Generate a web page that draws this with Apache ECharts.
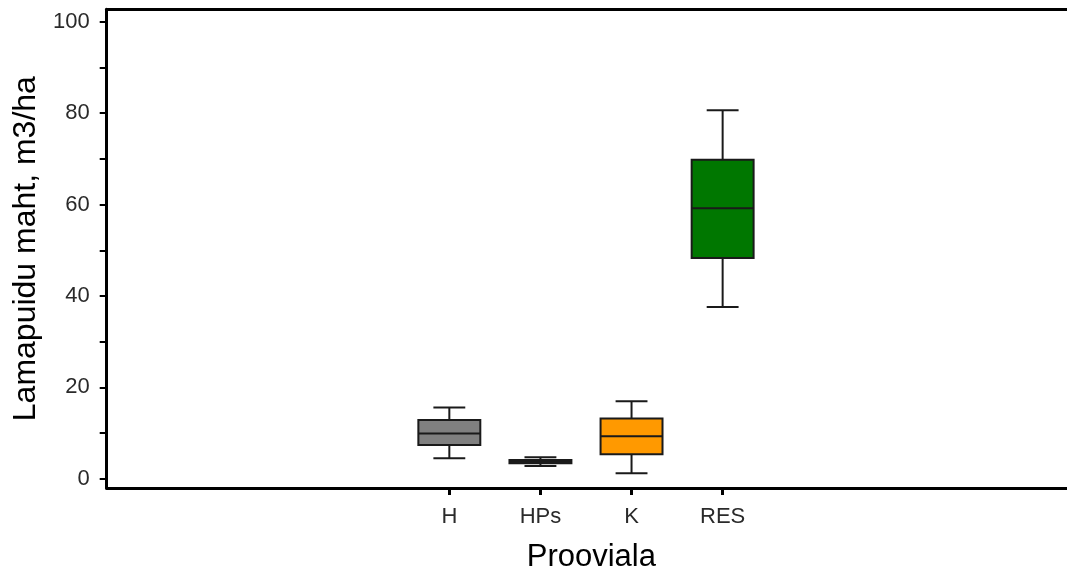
<!DOCTYPE html>
<html>
<head>
<meta charset="utf-8">
<script src="https://cdn.jsdelivr.net/npm/echarts@6/dist/echarts.min.js"></script>
<style>
  html, body { margin: 0; padding: 0; background: #fff; }
  #chart { width: 1067px; height: 578px; }
</style>
</head>
<body>
<div id="chart"></div>
<script>
// Lying deadwood volume by sample plot type (box plots)
const categories = ['H', 'HPs', 'K', 'RES'];
const whiskerLow = [4.5, 2.8, 1.2, 37.6];
const quartile1 = [7.4, 3.4, 5.4, 48.3];
const medians = [9.9, 3.8, 9.3, 59.2];
const quartile3 = [12.9, 4.1, 13.2, 69.8];
const whiskerHigh = [15.6, 4.7, 17.0, 80.6];
const boxColors = ['#808080', '#2a2a2a', '#FF9900', '#007700'];

const yTickValues = [0, 10, 20, 30, 40, 50, 60, 70, 80, 90, 100];
const yLabelValues = [0, 20, 40, 60, 80, 100];
const xPositions = categories.map((c, i) => i);

const boxData = categories.map((c, i) => [
  i, whiskerLow[i], quartile1[i], medians[i], quartile3[i], whiskerHigh[i]
]);

const BOX_WIDTH = 0.68;   // in category units
const CAP_WIDTH = 0.35;
const STROKE = '#1a1a1a';
const X_MIN = -3.761;
const X_MAX = 6.78;

function renderBox(params, api) {
  const x = api.value(0);
  const pLow = api.coord([x, api.value(1)]);
  const pQ1 = api.coord([x, api.value(2)]);
  const pMed = api.coord([x, api.value(3)]);
  const pQ3 = api.coord([x, api.value(4)]);
  const pHigh = api.coord([x, api.value(5)]);
  const half = api.size([BOX_WIDTH, 0])[0] / 2;
  const capHalf = api.size([CAP_WIDTH, 0])[0] / 2;
  const cx = pMed[0];
  const lineStyle = { stroke: STROKE, lineWidth: 2 };
  return {
    type: 'group',
    children: [
      { type: 'line', shape: { x1: cx, y1: pHigh[1], x2: cx, y2: pQ3[1] }, style: lineStyle },
      { type: 'line', shape: { x1: cx, y1: pQ1[1], x2: cx, y2: pLow[1] }, style: lineStyle },
      { type: 'line', shape: { x1: cx - capHalf, y1: pHigh[1], x2: cx + capHalf, y2: pHigh[1] }, style: lineStyle },
      { type: 'line', shape: { x1: cx - capHalf, y1: pLow[1], x2: cx + capHalf, y2: pLow[1] }, style: lineStyle },
      {
        type: 'rect',
        shape: { x: cx - half, y: pQ3[1], width: half * 2, height: pQ1[1] - pQ3[1] },
        style: { fill: boxColors[params.dataIndex], stroke: STROKE, lineWidth: 2 }
      },
      { type: 'line', shape: { x1: cx - half, y1: pMed[1], x2: cx + half, y2: pMed[1] }, style: lineStyle }
    ]
  };
}

const chart = echarts.init(document.getElementById('chart'), null, { renderer: 'canvas' });

chart.setOption({
  backgroundColor: '#ffffff',
  animation: false,
  textStyle: { fontFamily: 'Liberation Sans, Arial, sans-serif' },
  grid: {
    left: 106.7,
    top: 9.3,
    right: 0,
    bottom: 87.3,
    show: false,
    containLabel: false
  },
  xAxis: [{
    type: 'value',
    min: X_MIN,
    max: X_MAX,
    name: 'Prooviala',
    nameLocation: 'middle',
    nameGap: 54,
    nameTextStyle: { fontSize: 31, color: '#000', fontFamily: 'Liberation Sans', padding: [0, 0, 0, 9] },
    axisLine: { show: true, onZero: false, lineStyle: { color: '#000', width: 3 } },
    axisTick: { show: true, customValues: xPositions, length: 7, inside: false, lineStyle: { color: '#000', width: 3 } },
    axisLabel: {
      customValues: xPositions,
      formatter: v => categories[Math.round(v)],
      fontSize: 22,
      color: '#2a2a2a',
      margin: 18,
      fontFamily: 'Liberation Sans'
    },
    splitLine: { show: false }
  }, {
    // top frame line
    type: 'value',
    position: 'top',
    min: X_MIN,
    max: X_MAX,
    axisLine: { show: true, onZero: false, lineStyle: { color: '#000', width: 3 } },
    axisTick: { show: false },
    axisLabel: { show: false },
    splitLine: { show: false }
  }],
  yAxis: {
    type: 'value',
    min: -2,
    max: 102.7,
    name: 'Lamapuidu maht, m3/ha',
    nameLocation: 'middle',
    nameRotate: 90,
    nameGap: 60,
    nameTextStyle: { fontSize: 32, color: '#000', fontFamily: 'Liberation Sans' },
    axisLine: { show: true, onZero: false, lineStyle: { color: '#000', width: 3 } },
    axisTick: { show: true, customValues: yTickValues, length: 7, inside: false, lineStyle: { color: '#000', width: 2 } },
    axisLabel: {
      customValues: yLabelValues,
      fontSize: 22,
      color: '#2a2a2a',
      margin: 17,
      fontFamily: 'Liberation Sans'
    },
    splitLine: { show: false }
  },
  series: [{
    type: 'custom',
    renderItem: renderBox,
    encode: { x: 0, y: [1, 2, 3, 4, 5] },
    data: boxData,
    clip: false
  }]
});
</script>
</body>
</html>
